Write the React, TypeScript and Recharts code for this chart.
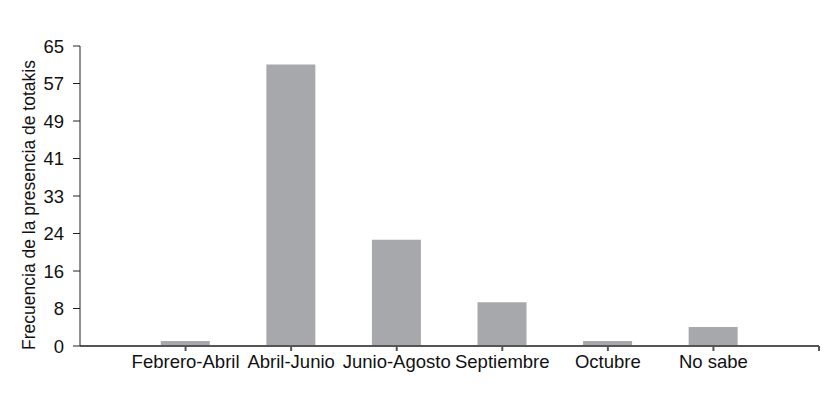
import { BarChart, Bar, XAxis, YAxis } from "recharts";

const categories = ["Febrero-Abril", "Abril-Junio", "Junio-Agosto", "Septiembre", "Octubre", "No sabe"];
const frecuencia = [1.1, 61, 23, 9.5, 1.1, 4.1];
const yTicks = [0, 8.125, 16.25, 24.375, 32.5, 40.625, 48.75, 56.875, 65];
const xTicks = [1, 2, 3, 4, 5, 6, 7];

const FONT = "'Liberation Sans', Arial, Helvetica, sans-serif";

const data = categories.map((name, i) => ({ pos: i + 1, name, value: frecuencia[i] }));

// y axis title, plus the figure frame (only its top and left edges are visible)
const YLabel = () => (
  <g>
    <path d="M7 412 V2 H835" fill="none" stroke="#1e1e1e" strokeWidth={2} />
    <text
      x={29}
      y={205}
      transform="rotate(-90 29 205)"
      textAnchor="middle"
      dominantBaseline="central"
      fontFamily={FONT}
      fontSize={17.5}
      fill="#111"
    >
      Frecuencia de la presencia de totakis
    </text>
  </g>
);

export default function App() {
  return (
    <div style={{ marginLeft: -8, marginTop: -8 }}>
      <BarChart
        width={835}
        height={412}
        data={data}
        margin={{ top: 46, right: 16, bottom: 26, left: 0 }}
        barSize={49}
      >
        <XAxis
          type="number"
          dataKey="pos"
          domain={[0, 7]}
          ticks={xTicks}
          tickFormatter={(v) => categories[v - 1] ?? ""}
          height={40}
          tickSize={5}
          tickMargin={4}
          interval={0}
          stroke="#555"
          strokeWidth={2}
          tick={{ fill: "#111", fontSize: 18.5, fontFamily: FONT }}
        />
        <YAxis
          type="number"
          domain={[0, 65]}
          ticks={yTicks}
          tickFormatter={(v) => String(Math.round(v))}
          width={80}
          tickSize={7}
          tickMargin={9}
          interval={0}
          stroke="#222"
          tick={{ fill: "#111", fontSize: 18.5, fontFamily: FONT }}
          label={YLabel}
        />
        <Bar dataKey="value" fill="#a7a8ab" isAnimationActive={false} />
      </BarChart>
    </div>
  );
}
